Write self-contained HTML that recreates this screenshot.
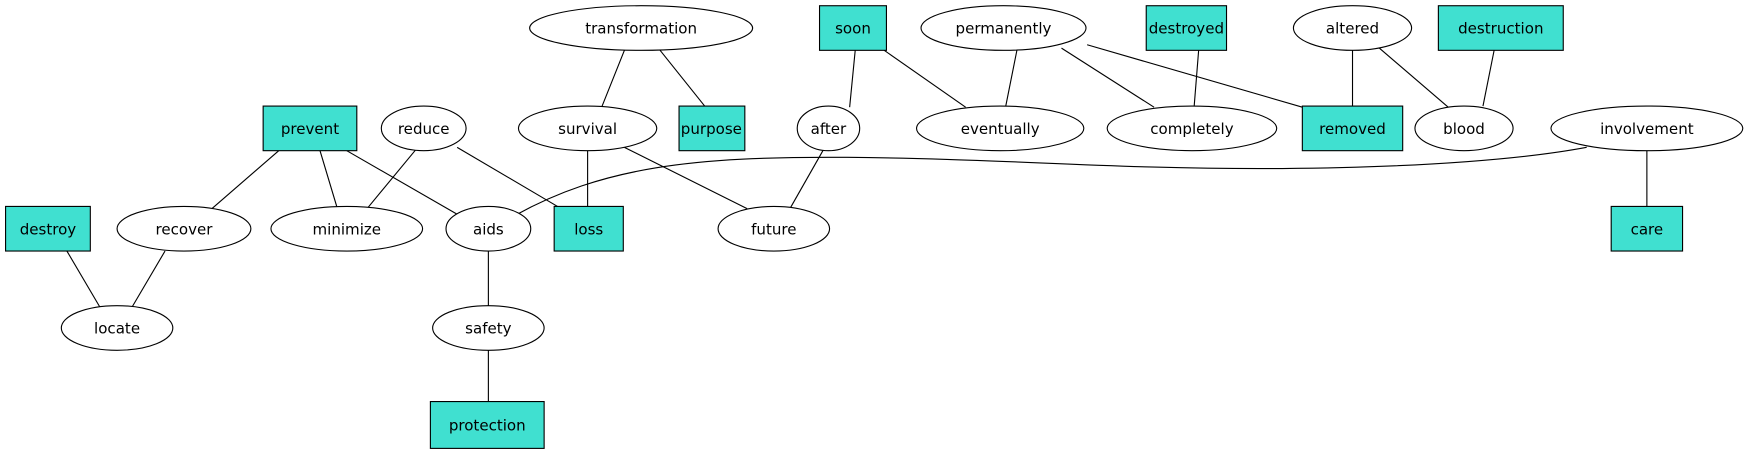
<!DOCTYPE html>
<html><head><meta charset="utf-8"><style>html,body{margin:0;padding:0;background:#fff}svg{display:block}</style></head>
<body>
<svg width="1745" height="453" viewBox="0 0 1565 406" xmlns="http://www.w3.org/2000/svg">
<g stroke="#000" stroke-width="1" fill="none">
<line x1="560" y1="45" x2="540" y2="95"/>
<line x1="592" y1="45" x2="632" y2="95"/>
<line x1="767" y1="45" x2="762" y2="96"/>
<line x1="793" y1="45" x2="866" y2="96"/>
<line x1="912" y1="45" x2="902" y2="95"/>
<line x1="952" y1="43" x2="1035" y2="96"/>
<line x1="975" y1="40" x2="1168" y2="96"/>
<line x1="1075" y1="45" x2="1071" y2="95"/>
<line x1="1213" y1="45" x2="1213" y2="95"/>
<line x1="1237" y1="43" x2="1300" y2="97"/>
<line x1="1340" y1="45" x2="1330" y2="95"/>
<line x1="250" y1="135" x2="190" y2="187"/>
<line x1="287" y1="135" x2="302" y2="185"/>
<line x1="311" y1="135" x2="410" y2="192"/>
<line x1="373" y1="134" x2="330" y2="186"/>
<line x1="410" y1="132" x2="500" y2="185"/>
<line x1="527" y1="135" x2="527" y2="185"/>
<line x1="560" y1="132" x2="670" y2="187"/>
<line x1="738" y1="135" x2="709" y2="186"/>
<line x1="1477" y1="135" x2="1477" y2="185"/>
<line x1="60" y1="225" x2="90" y2="276"/>
<line x1="148" y1="225" x2="118" y2="276"/>
<line x1="438" y1="225" x2="438" y2="274"/>
<line x1="438" y1="314" x2="438" y2="360"/>
<path d="M462,193 C540,150 620,140 760,141 C900,142 1000,152 1150,151 C1280,150 1370,142 1423,132"/>
</g>
<g stroke="#000" stroke-width="1" fill="#fff">
<ellipse cx="575" cy="25" rx="100" ry="20"/>
<ellipse cx="900" cy="25" rx="74" ry="20"/>
<ellipse cx="1213" cy="25" rx="53" ry="20"/>
<ellipse cx="380" cy="115" rx="38" ry="20"/>
<ellipse cx="527" cy="115" rx="62" ry="20"/>
<ellipse cx="743" cy="115" rx="28" ry="20"/>
<ellipse cx="897" cy="115" rx="75" ry="20"/>
<ellipse cx="1069" cy="115" rx="76" ry="20"/>
<ellipse cx="1313" cy="115" rx="44" ry="20"/>
<ellipse cx="1477" cy="115" rx="86" ry="20"/>
<ellipse cx="165" cy="205" rx="60" ry="20"/>
<ellipse cx="311" cy="205" rx="68" ry="20"/>
<ellipse cx="438" cy="205" rx="38" ry="20"/>
<ellipse cx="694" cy="205" rx="50" ry="20"/>
<ellipse cx="105" cy="294" rx="50" ry="20"/>
<ellipse cx="438" cy="294" rx="50" ry="20"/>
</g>
<g stroke="#000" stroke-width="1" fill="#40e0d0">
<rect x="735" y="5" width="60" height="40"/>
<rect x="1028" y="5" width="72" height="40"/>
<rect x="1290" y="5" width="112" height="40"/>
<rect x="236" y="95" width="84" height="40"/>
<rect x="609" y="95" width="59" height="40"/>
<rect x="1168" y="95" width="90" height="40"/>
<rect x="5" y="185" width="76" height="40"/>
<rect x="497" y="185" width="62" height="40"/>
<rect x="1445" y="185" width="64" height="40"/>
<rect x="386" y="360" width="102" height="42"/>
</g>
<g font-family="DejaVu Sans, Liberation Sans, sans-serif" font-size="13.5" text-anchor="middle" fill="#000">
<text x="575" y="30">transformation</text>
<text x="765" y="30">soon</text>
<text x="900" y="30">permanently</text>
<text x="1064" y="30">destroyed</text>
<text x="1213" y="30">altered</text>
<text x="1346" y="30">destruction</text>
<text x="278" y="120">prevent</text>
<text x="380" y="120">reduce</text>
<text x="527" y="120">survival</text>
<text x="638" y="120">purpose</text>
<text x="743" y="120">after</text>
<text x="897" y="120">eventually</text>
<text x="1069" y="120">completely</text>
<text x="1213" y="120">removed</text>
<text x="1313" y="120">blood</text>
<text x="1477" y="120">involvement</text>
<text x="43" y="210">destroy</text>
<text x="528" y="210">loss</text>
<text x="165" y="210">recover</text>
<text x="311" y="210">minimize</text>
<text x="438" y="210">aids</text>
<text x="694" y="210">future</text>
<text x="1477" y="210">care</text>
<text x="105" y="299">locate</text>
<text x="438" y="299">safety</text>
<text x="437" y="386">protection</text>
</g>
</svg>
</body></html>
